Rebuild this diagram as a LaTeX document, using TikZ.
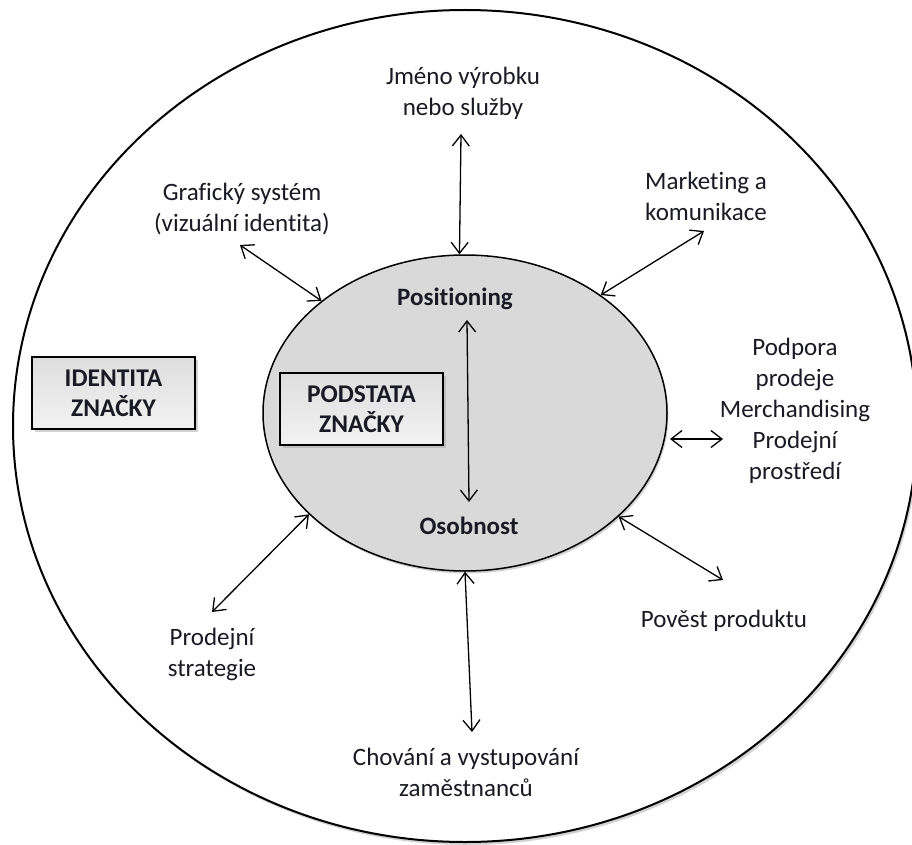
\documentclass[tikz,border=0pt]{standalone}
\usepackage{fontspec}
\setmainfont[Ligatures=NoCommon]{Carlito}
\usetikzlibrary{arrows.meta,shapes.geometric,shadows}
\definecolor{corefill}{HTML}{D9D9D9}
\definecolor{inkcol}{HTML}{1A1A24}
\begin{document}
\begin{tikzpicture}[x=1pt,y=-1pt,
  lbl/.style={align=center,font=\fontsize{25}{31}\selectfont,text=inkcol,inner sep=0pt},
  link/.style={line width=1.3pt,{Straight Barb[length=11pt,width=17pt]}-{Straight Barb[length=11pt,width=17pt]}},
  tag/.style={draw=black,line width=2.6pt,top color=gray!26,bottom color=gray!10,
    align=center,font=\fontsize{25.5}{30}\selectfont\bfseries,text=inkcol,
    minimum width=163pt,minimum height=72pt,inner sep=0pt,
    drop shadow={shadow xshift=3pt,shadow yshift=-3pt,fill=gray!70}}
]
\useasboundingbox (0,0) rectangle (912,845);
\clip (0,0) rectangle (912,845);
\fill[white] (0,0) rectangle (912,845);

% outer ring: brand identity
\node[ellipse,draw,fill=white,line width=2pt,minimum width=904pt,minimum height=832pt,inner sep=0pt,
  drop shadow={shadow xshift=2pt,shadow yshift=-3pt,opacity=0.35}] (outer) at (465,426) {};

% inner core: brand essence
\node[ellipse,draw,fill=corefill,line width=1.5pt,minimum width=404pt,minimum height=316pt,inner sep=0pt,
  drop shadow={shadow xshift=1.5pt,shadow yshift=-2.5pt,opacity=0.35}] (core) at (465,413) {};

\node[tag] (identity) at (113.5,393) {IDENTITA\\ZNAČKY};
\node[tag] (essence) at (361.5,409) {PODSTATA\\ZNAČKY};

\node[lbl] (pos) at (455,299) {\bfseries Positioning};
\node[lbl] (oso) at (469,526) {\bfseries Osobnost};

\node[lbl] (name) at (463,93) {Jméno výrobku\\nebo služby};
\node[lbl] (graph) at (242,209) {Grafický systém\\(vizuální identita)};
\node[lbl] (mkt) at (706,196) {Marketing a\\komunikace};
\node[lbl] (promo) at (795,411) {Podpora\\prodeje\\Merchandising\\Prodejní\\prostředí};
\node[lbl] (fame) at (724,621) {Pověst produktu};
\node[lbl] (sales) at (212,654) {Prodejní\\strategie};
\node[lbl] (staff) at (466,772) {Chování a vystupování\\zaměstnanců};

% free ends of the connectors
\coordinate (nameEnd) at (461,134);
\coordinate (graphEnd) at (240,245);
\coordinate (mktEnd) at (704,231);
\coordinate (promoIn) at (670,439);
\coordinate (promoEnd) at (723,439);
\coordinate (fameEnd) at (723,580);
\coordinate (salesEnd) at (212,612);
\coordinate (staffEnd) at (472,732);
\coordinate (posEnd) at (467,320);
\coordinate (osoEnd) at (469,502);

\draw[link] (nameEnd) -- (core.92);
\draw[link] (graphEnd) -- (core.142);
\draw[link] (mktEnd) -- (core.41);
\draw[link] (promoIn) -- (promoEnd);
\draw[link] (fameEnd) -- (core.-34);
\draw[link] (salesEnd) -- (core.213);
\draw[link] (staffEnd) -- (core.270);
\draw[link] (posEnd) -- (osoEnd);
\end{tikzpicture}
\end{document}
